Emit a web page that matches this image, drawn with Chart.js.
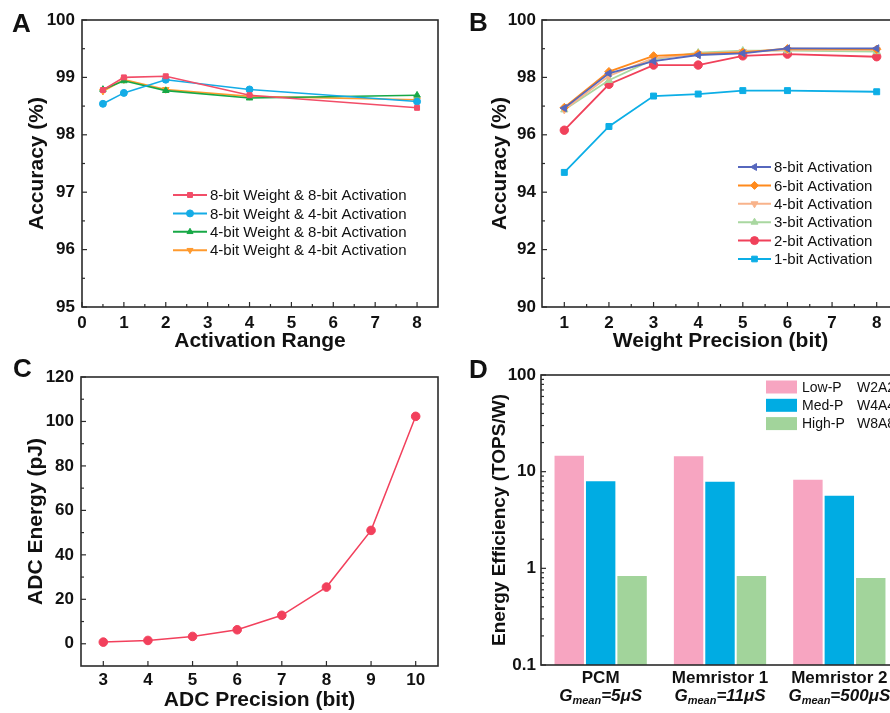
<!DOCTYPE html>
<html>
<head>
<meta charset="utf-8">
<script src="https://cdn.jsdelivr.net/npm/chart.js@4/dist/chart.umd.min.js"></script>
<style>
  html, body { margin: 0; padding: 0; background: #fff; }
  body { width: 890px; height: 713px; overflow: hidden; position: relative; }
  canvas { position: absolute; }
</style>
</head>
<body>
<canvas id="chartA" width="445" height="360" style="left:0;top:0"></canvas>
<canvas id="chartB" width="460" height="360" style="left:445px;top:0"></canvas>
<canvas id="chartC" width="445" height="373" style="left:0;top:340px"></canvas>
<canvas id="chartD" width="460" height="373" style="left:445px;top:340px"></canvas>
<script>
// A: accuracy vs activation range
const rangeX = [0.5, 1, 2, 4, 8];
const w8a8 = [98.78, 99.00, 99.02, 98.69, 98.47];
const w8a4 = [98.54, 98.73, 98.96, 98.79, 98.58];
const w4a8 = [98.79, 98.94, 98.77, 98.64, 98.69];
const w4a4 = [98.76, 98.96, 98.79, 98.67, 98.61];
const ticksAX = [0, 1, 2, 3, 4, 5, 6, 7, 8];
const ticksAY = [95, 96, 97, 98, 99, 100];

// B: accuracy vs weight precision
const weightBits = [1, 2, 3, 4, 5, 6, 8];
const act8 = [96.93, 98.14, 98.57, 98.78, 98.84, 99.01, 99.01];
const act6 = [96.95, 98.20, 98.75, 98.82, 98.87, 99.00, 98.98];
const act4 = [96.87, 98.05, 98.67, 98.82, 98.90, 98.96, 98.96];
const act3 = [96.87, 97.90, 98.63, 98.86, 98.93, 98.93, 98.90];
const act2 = [96.16, 97.76, 98.43, 98.43, 98.75, 98.81, 98.72];
const act1 = [94.69, 96.29, 97.35, 97.42, 97.54, 97.54, 97.50];
const ticksBX = [1, 2, 3, 4, 5, 6, 7, 8];
const ticksBY = [90, 92, 94, 96, 98, 100];

// C: ADC energy
const adcBits = [3, 4, 5, 6, 7, 8, 9, 10];
const adcEnergy = [0.75, 1.5, 3.3, 6.3, 12.8, 25.5, 51.0, 102.3];
const ticksCX = [3, 4, 5, 6, 7, 8, 9, 10];
const ticksCY = [0, 20, 40, 60, 80, 100, 120];

// D: energy efficiency
const devices = ['PCM', 'Memristor 1', 'Memristor 2'];
const gmeans = ['=5μS', '=11μS', '=500μS'];
const lowP = [15.0, 14.8, 8.47];
const medP = [8.13, 8.07, 5.78];
const highP = [0.853, 0.853, 0.813];
const precNames = ['Low-P', 'Med-P', 'High-P'];
const precCodes = ['W2A2', 'W4A4', 'W8A8'];
const ticksDY = [0.1, 1, 10, 100];

const FONT = 'Liberation Sans, Arial, sans-serif';
Chart.defaults.font.family = FONT;
Chart.defaults.color = '#111';
Chart.defaults.animation = false;

function mids(arr) {
  let out = [];
  for (let i = 0; i < arr.length - 1; i++) out.push((arr[i] + arr[i + 1]) / 2);
  return out;
}
function logMinors(arr) {
  let out = [];
  for (let i = 0; i < arr.length - 1; i++)
    for (let k = 2; k < 10; k++) out.push(arr[i] * k);
  return out;
}
function toPts(xs, ys) { return xs.map((x, i) => ({x: x, y: ys[i]})); }

// box around plot area, inward ticks, panel letter
function frame(cfg) {
  return {
    id: 'frame',
    afterDatasetsDraw(chart) {
      const ctx = chart.ctx, a = chart.chartArea;
      const sx = chart.scales.x, sy = chart.scales.y;
      ctx.save();
      ctx.strokeStyle = '#2b2b2b';
      ctx.lineWidth = 1.6;
      ctx.strokeRect(a.left, a.top, a.right - a.left, a.bottom - a.top);
      ctx.lineWidth = 1.2;
      const tx = (v, len) => { const p = sx.getPixelForValue(v); ctx.beginPath(); ctx.moveTo(p, a.bottom); ctx.lineTo(p, a.bottom - len); ctx.stroke(); };
      const ty = (v, len) => { const p = sy.getPixelForValue(v); ctx.beginPath(); ctx.moveTo(a.left, p); ctx.lineTo(a.left + len, p); ctx.stroke(); };
      (cfg.xMajor || []).forEach(v => tx(v, 5));
      (cfg.xMinor || []).forEach(v => tx(v, 3));
      (cfg.yMajor || []).forEach(v => ty(v, 5));
      (cfg.yMinor || []).forEach(v => ty(v, 3));
      ctx.fillStyle = '#111';
      ctx.font = 'bold 26px ' + FONT;
      ctx.textAlign = 'left';
      ctx.textBaseline = 'alphabetic';
      ctx.fillText(cfg.letter, cfg.lx, cfg.ly);
      ctx.restore();
    }
  };
}

function lineLegend(x, y, gap, len, r) {
  return {
    id: 'lineLegend',
    afterDraw(chart) {
      const ctx = chart.ctx;
      ctx.save();
      ctx.font = '15px ' + FONT;
      ctx.textBaseline = 'middle';
      chart.data.datasets.forEach((ds, i) => {
        const yy = y + i * gap;
        ctx.strokeStyle = ds.borderColor;
        ctx.fillStyle = ds.borderColor;
        ctx.lineWidth = 2;
        ctx.beginPath(); ctx.moveTo(x, yy); ctx.lineTo(x + len, yy); ctx.stroke();
        ctx.lineWidth = 1;
        Chart.helpers.drawPoint(ctx, {pointStyle: ds.pointStyle, rotation: ds.pointRotation || 0, radius: r, borderWidth: 1}, x + len / 2, yy);
        ctx.fillStyle = '#111';
        ctx.fillText(ds.label, x + len + 3, yy + 1);
      });
      ctx.restore();
    }
  };
}

function yAxis(min, max, ticks, title, width, pad, titlePad, titleSize) {
  return {
    type: 'linear', min: min, max: max,
    afterBuildTicks: s => { s.ticks = ticks.map(v => ({value: v})); },
    afterFit: s => { s.width = width; },
    grid: {display: false, drawTicks: false},
    border: {display: false},
    ticks: {padding: pad, font: {size: 17, weight: 'bold'}, color: '#111'},
    title: {display: true, text: title, color: '#111', font: {size: titleSize || 21, weight: 'bold'}, padding: {top: titlePad, bottom: 0}}
  };
}
function xAxis(min, max, ticks, title, height, pad, titlePad) {
  return {
    type: 'linear', min: min, max: max,
    afterBuildTicks: s => { s.ticks = ticks.map(v => ({value: v})); },
    afterFit: s => { s.height = height; },
    grid: {display: false, drawTicks: false},
    border: {display: false},
    ticks: {padding: pad, font: {size: 17, weight: 'bold'}, color: '#111', maxRotation: 0, autoSkip: false},
    title: {display: true, text: title, color: '#111', font: {size: 21, weight: 'bold'}, padding: {top: 0, bottom: titlePad}}
  };
}
function lineSet(label, xs, ys, color, style, rot, r, w) {
  return {
    label: label, data: toPts(xs, ys), borderColor: color, backgroundColor: color,
    pointBackgroundColor: color, pointBorderColor: color, pointBorderWidth: 1,
    pointStyle: style, pointRotation: rot, pointRadius: r, borderWidth: w, tension: 0
  };
}

// Panel A
new Chart(document.getElementById('chartA'), {
  type: 'line',
  data: {datasets: [
    lineSet('8-bit Weight & 8-bit Activation', rangeX, w8a8, '#f24d68', 'rect', 0, 3.5, 1.6),
    lineSet('8-bit Weight & 4-bit Activation', rangeX, w8a4, '#14ace6', 'circle', 0, 3.5, 1.6),
    lineSet('4-bit Weight & 8-bit Activation', rangeX, w4a8, '#17a846', 'triangle', 0, 3.8, 1.6),
    lineSet('4-bit Weight & 4-bit Activation', rangeX, w4a4, '#ff9a2e', 'triangle', 180, 3.8, 1.6)
  ]},
  options: {
    responsive: false,
    layout: {padding: {left: 0, top: 20, right: 7, bottom: 0}},
    plugins: {legend: {display: false}, tooltip: {enabled: false}},
    scales: {
      x: xAxis(0, 8.5, ticksAX, 'Activation Range', 53, 6, 6),
      y: yAxis(95, 100, ticksAY, 'Accuracy (%)', 82, 7, 25)
    }
  },
  plugins: [
    frame({xMajor: ticksAX, xMinor: mids(ticksAX), yMajor: ticksAY, yMinor: mids(ticksAY), letter: 'A', lx: 12, ly: 32}),
    lineLegend(173, 195, 18.4, 34, 3.5)
  ]
});

// Panel B
new Chart(document.getElementById('chartB'), {
  type: 'line',
  data: {datasets: [
    lineSet('8-bit Activation', weightBits, act8, '#5667bd', 'triangle', -90, 4.2, 1.8),
    lineSet('6-bit Activation', weightBits, act6, '#ff8a1c', 'rectRot', 0, 4.2, 1.8),
    lineSet('4-bit Activation', weightBits, act4, '#f8b38b', 'triangle', 180, 4.2, 1.8),
    lineSet('3-bit Activation', weightBits, act3, '#a9d7a0', 'triangle', 0, 4.2, 1.8),
    lineSet('2-bit Activation', weightBits, act2, '#f0415a', 'circle', 0, 4.2, 1.8),
    lineSet('1-bit Activation', weightBits, act1, '#0caee6', 'rect', 0, 4.2, 1.8)
  ]},
  options: {
    responsive: false,
    layout: {padding: {left: 0, top: 20, right: 6, bottom: 0}},
    plugins: {legend: {display: false}, tooltip: {enabled: false}},
    scales: {
      x: xAxis(0.5, 8.5, ticksBX, 'Weight Precision (bit)', 53, 6, 6),
      y: yAxis(90, 100, ticksBY, 'Accuracy (%)', 97, 6, 43)
    }
  },
  plugins: [
    frame({xMajor: ticksBX, xMinor: mids(ticksBX), yMajor: ticksBY, yMinor: mids(ticksBY), letter: 'B', lx: 24, ly: 31}),
    lineLegend(293, 167, 18.4, 33, 4)
  ]
});

// Panel C
new Chart(document.getElementById('chartC'), {
  type: 'line',
  data: {datasets: [
    lineSet('ADC Energy', adcBits, adcEnergy, '#f2405c', 'circle', 0, 4.3, 1.5)
  ]},
  options: {
    responsive: false,
    layout: {padding: {left: 0, top: 37, right: 7, bottom: 0}},
    plugins: {legend: {display: false}, tooltip: {enabled: false}},
    scales: {
      x: xAxis(2.5, 10.5, ticksCX, 'ADC Precision (bit)', 47, 4, 0),
      y: yAxis(-10, 120, ticksCY, 'ADC Energy (pJ)', 81, 7, 24)
    }
  },
  plugins: [
    frame({xMajor: ticksCX, yMajor: ticksCY, yMinor: mids(ticksCY), letter: 'C', lx: 13, ly: 37})
  ]
});

// Panel D
const barColors = ['#f7a5c1', '#00ace3', '#a2d49b'];
const dLegend = {
  id: 'dLegend',
  afterDraw(chart) {
    const ctx = chart.ctx;
    ctx.save();
    ctx.font = '14px ' + FONT;
    ctx.textBaseline = 'middle';
    ctx.textAlign = 'left';
    precNames.forEach((n, i) => {
      const yy = 47 + i * 18.3;
      ctx.fillStyle = barColors[i];
      ctx.fillRect(321, yy - 6.5, 31, 13);
      ctx.fillStyle = '#111';
      ctx.fillText(n, 357, yy + 1);
      ctx.fillText(precCodes[i], 412, yy + 1);
    });
    // category labels with subscript
    const sx = chart.scales.x;
    devices.forEach((name, i) => {
      const px = sx.getPixelForValue(i);
      ctx.textAlign = 'center';
      ctx.font = 'bold 17px ' + FONT;
      ctx.fillText(name, px, 338);
      ctx.textAlign = 'left';
      const f1 = 'italic bold 17px ' + FONT, f2 = 'italic bold 11px ' + FONT;
      ctx.font = f1; const w1 = ctx.measureText('G').width, w3 = ctx.measureText(gmeans[i]).width;
      ctx.font = f2; const w2 = ctx.measureText('mean').width;
      let x0 = px - (w1 + w2 + w3) / 2;
      ctx.font = f1; ctx.fillText('G', x0, 356);
      ctx.font = f2; ctx.fillText('mean', x0 + w1, 361);
      ctx.font = f1; ctx.fillText(gmeans[i], x0 + w1 + w2, 356);
    });
    ctx.restore();
  }
};

new Chart(document.getElementById('chartD'), {
  type: 'bar',
  data: {
    labels: devices,
    datasets: [
      {label: 'Low-P', data: lowP, backgroundColor: barColors[0]},
      {label: 'Med-P', data: medP, backgroundColor: barColors[1]},
      {label: 'High-P', data: highP, backgroundColor: barColors[2]}
    ]
  },
  options: {
    responsive: false,
    layout: {padding: {left: 0, top: 35, right: 6, bottom: 0}},
    datasets: {bar: {categoryPercentage: 0.79, barPercentage: 1, borderWidth: 1, borderColor: '#fff', borderSkipped: 'start'}},
    plugins: {legend: {display: false}, tooltip: {enabled: false}},
    scales: {
      x: {
        type: 'category',
        afterFit: s => { s.height = 48; },
        grid: {display: false, drawTicks: false},
        border: {display: false},
        ticks: {display: false}
      },
      y: {
        type: 'logarithmic', min: 0.1, max: 100,
        afterBuildTicks: s => { s.ticks = ticksDY.map(v => ({value: v})); },
        afterFit: s => { s.width = 96; },
        grid: {display: false, drawTicks: false},
        border: {display: false},
        ticks: {padding: 5, font: {size: 17, weight: 'bold'}, color: '#111', callback: v => String(v)},
        title: {display: true, text: 'Energy Efficiency (TOPS/W)', color: '#111', font: {size: 19, weight: 'bold'}, padding: {top: 43, bottom: 0}}
      }
    }
  },
  plugins: [
    frame({yMajor: ticksDY, yMinor: logMinors(ticksDY), letter: 'D', lx: 24, ly: 38}),
    dLegend
  ]
});
</script>
</body>
</html>
